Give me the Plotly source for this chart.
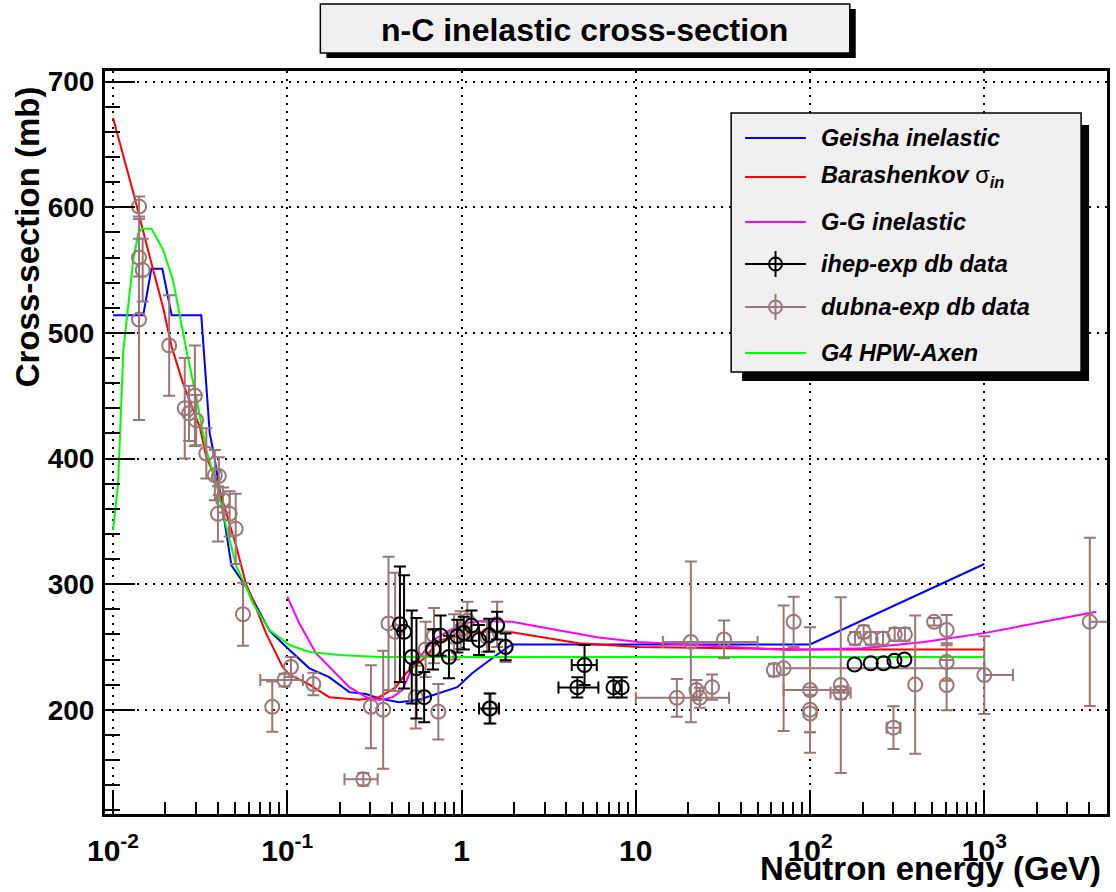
import numpy as np
import plotly.graph_objects as go

# ---------------- model curves ----------------
geisha_E = [0.01, 0.0149, 0.0166, 0.0192, 0.0217, 0.0321, 0.0359, 0.0382, 0.0478, 0.058,
            0.079, 0.103, 0.134, 0.174, 0.227, 0.283, 0.337, 0.438, 0.57, 0.743,
            0.946, 1.15, 1.64, 1.95, 10, 100, 1000]
geisha_sigma = [514, 514, 551, 551, 514, 514, 420, 401, 315, 298,
                263, 247.5, 233, 226, 214, 212.5, 209, 206, 208, 213,
                218, 229, 245, 252, 252, 252, 316]

barash_E = [0.01, 0.013, 0.017, 0.0194, 0.0217, 0.0252, 0.0315, 0.0343, 0.0392, 0.0447,
            0.051, 0.058, 0.0636, 0.0755, 0.094, 0.103, 0.134, 0.174, 0.259, 0.337,
            0.42, 0.479, 0.622, 0.743, 0.925, 1.2, 1.87, 2.54, 4.7, 10.4,
            100, 1000]
barash_sigma = [671, 613, 550, 520, 489, 460, 425, 401, 383, 356,
                330, 300, 287, 261, 234, 228, 220, 210, 208, 210,
                218, 229, 242, 255, 258, 262, 262, 259, 253, 250,
                248, 248]

gg_E = [0.1, 0.117, 0.146, 0.182, 0.227, 0.283, 0.337, 0.402, 0.458, 0.523,
        0.622, 0.68, 0.847, 1.054, 1.31, 1.95, 2.54, 3.94, 6.1, 10.4,
        74.6, 200, 452, 1000, 2190, 4395]
gg_sigma = [290, 269, 245, 231.6, 218, 210, 207.7, 210, 215.7, 234,
            247.5, 255, 263, 269, 270.6, 270, 267, 262, 257.6, 254,
            247.5, 249, 254, 261, 270, 278]

g4_E = [0.01, 0.0107, 0.01146, 0.01306, 0.01396, 0.01459, 0.01664, 0.0194, 0.0221, 0.0264,
        0.030, 0.0343, 0.0392, 0.0447, 0.051, 0.058, 0.0636, 0.079, 0.103, 0.134,
        0.199, 0.337, 1000]
g4_sigma = [343, 380, 486, 558, 579, 583, 583, 566, 542, 486,
            449, 406.6, 380, 345.6, 314, 298, 284.6, 263.4, 251.5, 246,
            243.5, 242, 242]

# ---------------- ihep-exp data ----------------
ihep_E = [0.443, 0.468, 0.518, 0.551, 0.610, 0.686, 0.759, 0.847, 0.946, 1.03,
          1.14, 1.26, 1.45, 1.44, 1.60, 1.79, 5.08, 4.62, 7.45, 8.3,
          180, 223, 264, 305, 348]
ihep_sigma = [268, 262, 242, 233, 210, 248, 259, 242, 258.6, 261,
              267, 255.5, 201, 259.4, 267, 250, 235.6, 217.8, 217.8, 217.8,
              236, 237, 237, 239, 240]
ihep_dsigma = [46, 45, 37, 40, 20, 16, 16, 17, 13, 13,
               12, 12, 12, 13, 11, 10.6, 16, 8, 8, 8,
               0, 0, 0, 0, 0]
ihep_dE_lo = [0, 0, 0, 0, 0, 0, 0, 0, 0, 0,
              0, 0, 0.19, 0, 0, 0, 0.79, 1.02, 0, 0,
              0, 0, 0, 0, 0]
ihep_dE_hi = [0, 0, 0, 0, 0, 0, 0, 0, 0, 0,
              0, 0, 0.19, 0, 0, 0, 0.89, 1.48, 0, 0,
              0, 0, 0, 0, 0]

# ---------------- dubna-exp data ----------------
dubna_E = [0.0141, 0.0141, 0.0148, 0.0141, 0.021, 0.0295, 0.0258, 0.0273, 0.0300, 0.0343,
           0.0384, 0.0405, 0.0428, 0.040, 0.0467, 0.0506, 0.0557, 0.082, 0.0964, 0.105,
           0.141, 0.302, 0.355, 0.273, 0.381, 0.416, 0.546, 0.622, 0.736, 0.695,
           0.906, 0.988, 1.08, 1.40, 1.47, 1.60, 1.79, 17.2, 20.7, 32.1,
           22.3, 23.3, 27.4, 62, 70.5, 80.5, 100, 100, 100, 150,
           150, 181, 203, 223, 262, 306, 350, 515, 608, 608,
           608, 401, 301, 1000, 4030]
dubna_sigma = [600.6, 560, 550, 510.6, 490, 450, 440, 436, 430.5, 404,
               386.7, 386, 367, 356, 356, 344, 276, 202.4, 223.6, 234,
               220.5, 202.4, 200, 144.6, 268.7, 262, 210, 248, 198.4, 259,
               258, 263.4, 271, 258, 201, 268, 250, 209.5, 254, 256,
               215.7, 209.5, 218, 231.6, 233, 270, 215.7, 200, 197, 219.6,
               213.5, 256.8, 262, 256.8, 256.8, 260, 260, 270, 263.4, 238,
               219.6, 220, 185.7, 227.6, 270]
dubna_dsigma = [8, 15, 25, 80, 40, 40, 40, 22, 20, 20,
                20, 15, 10, 22, 18, 28, 25, 20, 5, 8,
                9, 33, 47, 5, 53, 47, 25, 22, 22, 22,
                18, 15, 15, 12, 12, 18, 12, 15, 64, 15,
                8, 8, 10, 5, 50, 20, 50, 18, 15, 70,
                5, 5, 5, 5, 5, 5, 5, 3, 12, 15,
                20, 55, 17, 31, 67]
dubna_dE_lo = [0, 0, 0, 0, 0, 0, 0, 0, 0, 0,
               0, 0, 0, 0, 0, 0, 0, 0, 0.0264, 0,
               0, 0, 0, 0.06, 0, 0, 0, 0, 0, 0,
               0, 0, 0, 0, 0, 0, 0, 7.2, 6.4, 0,
               0, 0, 0, 0, 0.001, 0, 29.5, 0, 0, 0,
               19, 0, 0, 0, 0, 0, 0, 0, 0, 0,
               0, 0, 26, 0.001, 0.001]
dubna_dE_hi = [0, 0, 0, 0, 0, 0, 0, 0, 0, 0,
               0, 0, 0, 0, 0, 0, 0, 0, 0.0266, 0,
               0, 0, 0, 0.057, 0, 0, 0, 0, 0, 0,
               0, 0, 0, 0, 0, 0, 0, 17.1, 29.3, 0,
               0, 0, 0, 0, 930, 0, 66, 0, 0, 0,
               21, 0, 0, 0, 0, 0, 0, 0, 0, 0,
               0, 0, 29, 460, 2000]

x_tickvals = [0.01, 0.1, 1, 10, 100, 1000]
x_ticktext = ["10<sup>-2</sup>", "10<sup>-1</sup>", "1", "10", "10<sup>2</sup>", "10<sup>3</sup>"]
y_tickvals = [200, 300, 400, 500, 600, 700]

C_BLUE, C_RED, C_MAG, C_GREEN = "#0000ff", "#ff0000", "#ff00ff", "#00ff00"
C_BLACK, C_BROWN = "#000000", "#9b7777"
FONT = "Liberation Sans, Arial, Helvetica, sans-serif"

# page geometry (pixels)
W, H = 1116, 892
L, R, T, B = 105, 1110, 71, 814


def PX(x):
    return (x - L) / (R - L)


def PY(y):
    return (B - y) / (B - T)


fig = go.Figure()

for E, s, col in [(geisha_E, geisha_sigma, C_BLUE), (barash_E, barash_sigma, C_RED),
                  (gg_E, gg_sigma, C_MAG), (g4_E, g4_sigma, C_GREEN)]:
    fig.add_trace(go.Scatter(x=E, y=s, mode="lines", line=dict(color=col, width=2),
                             showlegend=False, hoverinfo="skip"))


def add_points(E, s, ds, dlo, dhi, color):
    E, s, ds, dlo, dhi = map(np.asarray, (E, s, ds, dlo, dhi))
    hasx = (dlo > 0) | (dhi > 0)
    hasy = ds > 0
    marker = dict(symbol="circle-open", size=14, color=color, line=dict(width=2, color=color))
    groups = [(hasx, True, True), (~hasx & hasy, False, True), (~hasx & ~hasy, False, False)]
    for m, ex, ey in groups:
        if not m.any():
            continue
        kw = {}
        if ey:
            kw["error_y"] = dict(type="data", array=ds[m], visible=True, color=color,
                                 thickness=2, width=6)
        if ex:
            kw["error_x"] = dict(type="data", symmetric=False, array=dhi[m], arrayminus=dlo[m],
                                 visible=True, color=color, thickness=2, width=6)
        fig.add_trace(go.Scatter(x=E[m], y=s[m], mode="markers", marker=marker,
                                 showlegend=False, hoverinfo="skip", **kw))


add_points(dubna_E, dubna_sigma, dubna_dsigma, dubna_dE_lo, dubna_dE_hi, C_BROWN)
add_points(ihep_E, ihep_sigma, ihep_dsigma, ihep_dE_lo, ihep_dE_hi, C_BLACK)

minor_x = [k * 10.0 ** n for n in range(-2, 4) for k in range(2, 10) if k * 10.0 ** n < 5100]

fig.update_xaxes(type="log", range=[-2.046, 3.704], tickmode="array", tickvals=x_tickvals,
                 ticktext=x_ticktext, ticks="inside", ticklen=24, tickwidth=2, tickcolor="black",
                 showline=True, linewidth=3, linecolor="black", mirror=True,
                 showgrid=True, gridcolor="black", gridwidth=2, griddash="2px,6px",
                 zeroline=False, ticklabelstandoff=8,
                 tickfont=dict(family=FONT, size=30, color="black", weight="bold"),
                 minor=dict(tickmode="array", tickvals=minor_x, ticks="inside", ticklen=12,
                            tickwidth=2, tickcolor="black", showgrid=False))
fig.update_yaxes(range=[117, 708.5], tickmode="array", tickvals=y_tickvals,
                 ticks="inside", ticklen=30, tickwidth=2, tickcolor="black",
                 showline=True, linewidth=3, linecolor="black", mirror=True,
                 showgrid=True, gridcolor="black", gridwidth=2, griddash="2px,6px",
                 zeroline=False, ticklabelstandoff=2,
                 tickfont=dict(family=FONT, size=28, color="black", weight="bold"),
                 minor=dict(dtick=20, tick0=0, ticks="inside", ticklen=15, tickwidth=2,
                            tickcolor="black", showgrid=False))

shapes = []
annotations = []

# title box with shadow
shapes.append(dict(type="rect", xref="paper", yref="paper", x0=PX(327), x1=PX(858), y0=PY(58), y1=PY(9),
                   fillcolor="black", line=dict(width=0), layer="above"))
shapes.append(dict(type="rect", xref="paper", yref="paper", x0=PX(321), x1=PX(852), y0=PY(53), y1=PY(4),
                   fillcolor="#f0f0f0", line=dict(color="black", width=1.5), layer="above"))
annotations.append(dict(text="n-C inelastic cross-section", xref="paper", yref="paper",
                        x=PX(586), y=PY(30), xanchor="center", yanchor="middle", showarrow=False,
                        font=dict(family=FONT, size=32, color="black", weight="bold")))

# legend box with shadow
shapes.append(dict(type="rect", xref="paper", yref="paper", x0=PX(744), x1=PX(1092), y0=PY(381), y1=PY(125),
                   fillcolor="black", line=dict(width=0), layer="above"))
shapes.append(dict(type="rect", xref="paper", yref="paper", x0=PX(733), x1=PX(1084), y0=PY(372), y1=PY(113),
                   fillcolor="#f0f0f0", line=dict(color="black", width=1.5), layer="above"))

leg_rows = [
    (138, C_BLUE, "line", "<b><i>Geisha inelastic</i></b>"),
    (177, C_RED, "line", "<b><i>Barashenkov </i></b>σ<sub><b><i>in</i></b></sub>"),
    (222, C_MAG, "line", "<b><i>G-G inelastic</i></b>"),
    (264, C_BLACK, "marker", "<b><i>ihep-exp db data</i></b>"),
    (307, C_BROWN, "marker", "<b><i>dubna-exp db data</i></b>"),
    (353, C_GREEN, "line", "<b><i>G4 HPW-Axen</i></b>"),
]
for yy, col, kind, txt in leg_rows:
    shapes.append(dict(type="line", xref="paper", yref="paper", x0=PX(747), x1=PX(808), y0=PY(yy), y1=PY(yy),
                       line=dict(color=col, width=2), layer="above"))
    if kind == "marker":
        r = 6.5
        shapes.append(dict(type="line", xref="paper", yref="paper", x0=PX(777.5), x1=PX(777.5),
                           y0=PY(yy - 13), y1=PY(yy + 13), line=dict(color=col, width=2), layer="above"))
        shapes.append(dict(type="circle", xref="paper", yref="paper", x0=PX(777.5 - r), x1=PX(777.5 + r),
                           y0=PY(yy + r), y1=PY(yy - r), line=dict(color=col, width=2), layer="above"))
    annotations.append(dict(text=txt, xref="paper", yref="paper", x=PX(821), y=PY(yy),
                            xanchor="left", yanchor="middle", showarrow=False,
                            font=dict(family=FONT, size=23.5, color="black")))

# axis titles
annotations.append(dict(text="<b>Neutron energy (GeV)</b>", xref="paper", yref="paper",
                        x=PX(1106), y=PY(868), xanchor="right", yanchor="middle", showarrow=False,
                        font=dict(family=FONT, size=33, color="black")))
annotations.append(dict(text="<b>Cross-section (mb)</b>", xref="paper", yref="paper", textangle=-90,
                        x=PX(28), y=PY(237), xanchor="center", yanchor="middle", showarrow=False,
                        font=dict(family=FONT, size=33, color="black")))

fig.update_layout(width=W, height=H, margin=dict(l=L, r=W - R, t=T, b=H - B, pad=0),
                  paper_bgcolor="white", plot_bgcolor="white", showlegend=False,
                  shapes=shapes, annotations=annotations,
                  font=dict(family=FONT, color="black"))

fig.write_html("out.html")
